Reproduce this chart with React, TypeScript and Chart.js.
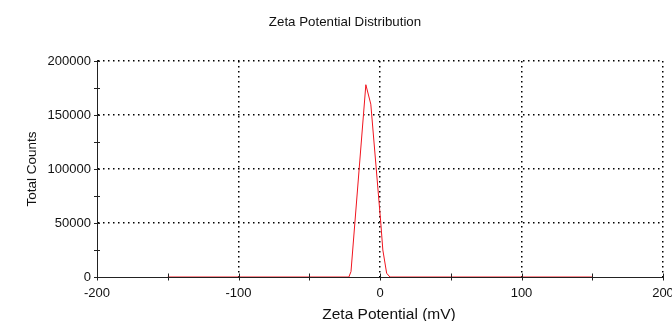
import React, { useEffect, useRef } from "react";
import { Chart, registerables } from "chart.js";

Chart.register(...registerables);

const chartTitle = "Zeta Potential Distribution";
const xAxisTitle = "Zeta Potential (mV)";
const yAxisTitle = "Total Counts";

// Zeta potential (mV) and total counts
const zetaValues = [-150, -22, -20.5, -10, -6.5, 0.5, 2, 4.7, 7, 150];
const countValues = [0, 0, 5000, 178000, 160000, 51000, 25000, 3500, 0, 0];

const xMin = -200;
const xMax = 200;
const xStep = 100;
const xMinorStep = 50;
const yMin = 0;
const yMax = 200000;
const yStep = 50000;
const yMinorStep = 25000;

const FONT = "'Liberation Sans', Arial, sans-serif";

const minorTicksPlugin = {
  id: "minorTicks",
  afterDraw(chart: any) {
    const ctx = chart.ctx;
    const xs = chart.scales.x;
    const ys = chart.scales.y;
    const area = chart.chartArea;
    ctx.save();
    ctx.strokeStyle = "#222";
    ctx.lineWidth = 1;
    ctx.beginPath();
    for (let v = xMin; v <= xMax; v += xMinorStep) {
      const px = Math.round(xs.getPixelForValue(v)) + 0.5;
      ctx.moveTo(px, area.bottom - 3.5);
      ctx.lineTo(px, area.bottom + 3.5);
    }
    for (let v = yMin; v <= yMax; v += yMinorStep) {
      const py = Math.round(ys.getPixelForValue(v)) + 0.5;
      ctx.moveTo(area.left - 3, py);
      ctx.lineTo(area.left + 3, py);
    }
    ctx.stroke();
    // x axis title
    ctx.fillStyle = "#111";
    ctx.font = "15.5px " + FONT;
    ctx.textAlign = "center";
    ctx.textBaseline = "middle";
    ctx.fillText(xAxisTitle, (area.left + area.right) / 2 + 9, 315);
    ctx.restore();
  },
};

export default function App() {
  const canvasRef = useRef<HTMLCanvasElement | null>(null);

  useEffect(() => {
    if (!canvasRef.current) return;
    Chart.defaults.font.family = FONT;
    Chart.defaults.color = "#111";
    const points = zetaValues.map((x, i) => ({ x, y: countValues[i] }));
    const chart = new Chart(canvasRef.current, {
      type: "line",
      data: {
        datasets: [
          {
            data: points,
            borderColor: "#f0141e",
            borderWidth: 1,
            pointRadius: 0,
            tension: 0,
            fill: false,
          },
        ],
      },
      plugins: [minorTicksPlugin],
      options: {
        animation: false,
        responsive: true,
        maintainAspectRatio: false,
        layout: { padding: { left: 27, right: 37, top: 0, bottom: 0 } },
        plugins: {
          legend: { display: false },
          tooltip: { enabled: false },
          title: {
            display: true,
            text: chartTitle,
            color: "#111",
            font: { size: 13.3, weight: "normal", family: FONT },
            padding: { top: 14.5, bottom: 30.5 },
          },
        },
        scales: {
          x: {
            type: "linear",
            min: xMin,
            max: xMax,
            afterFit: (s: any) => {
              s.height = 44;
            },
            ticks: {
              stepSize: xStep,
              padding: 9,
              color: "#111",
              font: { size: 13, family: FONT },
              maxRotation: 0,
            },
            grid: {
              drawTicks: false,
              lineWidth: 1.5,
              color: (c: any) =>
                c.tick && c.tick.value === xMin ? "rgba(0,0,0,0)" : "#000",
            },
            border: { display: true, color: "#222", width: 1, dash: [1.5, 3.5] },
            title: { display: false },
          },
          y: {
            type: "linear",
            min: yMin,
            max: yMax,
            afterFit: (s: any) => {
              s.width = 70;
            },
            ticks: {
              stepSize: yStep,
              padding: 6,
              color: "#111",
              font: { size: 13, family: FONT },
              callback: (v: any) => String(v),
            },
            grid: {
              drawTicks: false,
              lineWidth: 1.5,
              color: (c: any) =>
                c.tick && c.tick.value === yMin ? "rgba(0,0,0,0)" : "#000",
            },
            border: { display: true, color: "#222", width: 1, dash: [1.5, 3.5] },
            title: {
              display: true,
              text: yAxisTitle,
              color: "#111",
              font: { size: 13.5, family: FONT },
              padding: { top: -3, bottom: 0 },
            },
          },
        },
      },
    } as any);
    return () => chart.destroy();
  }, []);

  return (
    <div
      style={{
        position: "fixed",
        left: 0,
        top: 0,
        width: 672,
        height: 321,
        overflow: "hidden",
        background: "#fff",
      }}
    >
      <div style={{ position: "relative", width: 700, height: 321 }}>
        <canvas ref={canvasRef} />
      </div>
    </div>
  );
}
